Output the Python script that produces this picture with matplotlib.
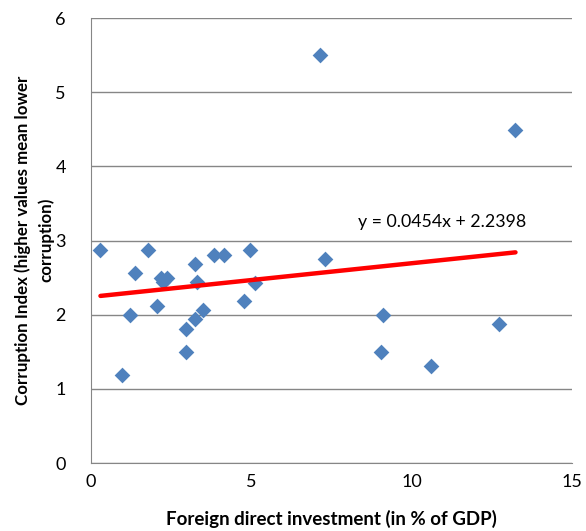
import matplotlib.pyplot as plt
import numpy as np

# FDI (% of GDP) vs corruption index
fdi = [0.30, 0.96, 1.22, 1.37, 1.79, 2.05, 2.20, 2.38, 2.25, 2.96, 2.98, 3.24, 3.24,
       3.31, 3.50, 3.85, 4.15, 4.78, 4.96, 5.11, 7.15, 7.30, 9.06, 9.12, 10.60,
       12.72, 13.24]
corruption = [2.87, 1.19, 1.99, 2.56, 2.87, 2.12, 2.49, 2.50, 2.44, 1.50, 1.81, 2.68, 1.94,
              2.44, 2.06, 2.80, 2.80, 2.18, 2.87, 2.43, 5.50, 2.75, 1.50, 1.99, 1.31,
              1.87, 4.49]

# trend line as reported by the chart
slope = 0.0454
intercept = 2.2398

plt.rcParams['font.family'] = ['Lato', 'DejaVu Sans']

fig = plt.figure(figsize=(5.86, 5.31), dpi=100)
ax = fig.add_axes([0.155, 0.128, 0.821, 0.838])

ax.scatter(fdi, corruption, marker='D', s=64, color='#4F81BD', zorder=3, linewidths=0)

x_line = np.array([min(fdi), max(fdi)])
ax.plot(x_line, slope * x_line + intercept, color='#FF0000', linewidth=3.2, zorder=4,
        solid_capstyle='round')
ax.text(10.95, 3.25, "y = {}x + {}".format(slope, intercept), ha='center', va='center',
        fontsize=12.8)

ax.set_xlim(0, 15)
ax.set_ylim(0, 6)
ax.set_xticks(np.arange(0, 16, 5))
ax.set_yticks(np.arange(0, 7, 1))
ax.tick_params(axis='y', length=0, labelsize=13, pad=18, colors='black')
ax.tick_params(axis='x', length=0, labelsize=13, pad=8, colors='black')
ax.grid(axis='y', color='#868686', linewidth=1)
ax.set_axisbelow(True)
for side in ['top', 'right']:
    ax.spines[side].set_visible(False)
for side in ['left', 'bottom']:
    ax.spines[side].set_color('#868686')

ax.set_xlabel("Foreign direct investment (in % of GDP)", fontsize=13.5, fontweight='bold',
              labelpad=14)
# y label placed by hand so the two lines sit where the reference has them
fig.text(0.058, 0.548, "Corruption Index (higher values mean lower\ncorruption)",
         rotation=90, ha='center', va='center', multialignment='center',
         fontsize=12.2, fontweight='bold', linespacing=1.5)

fig.savefig("out.png", dpi=100)
